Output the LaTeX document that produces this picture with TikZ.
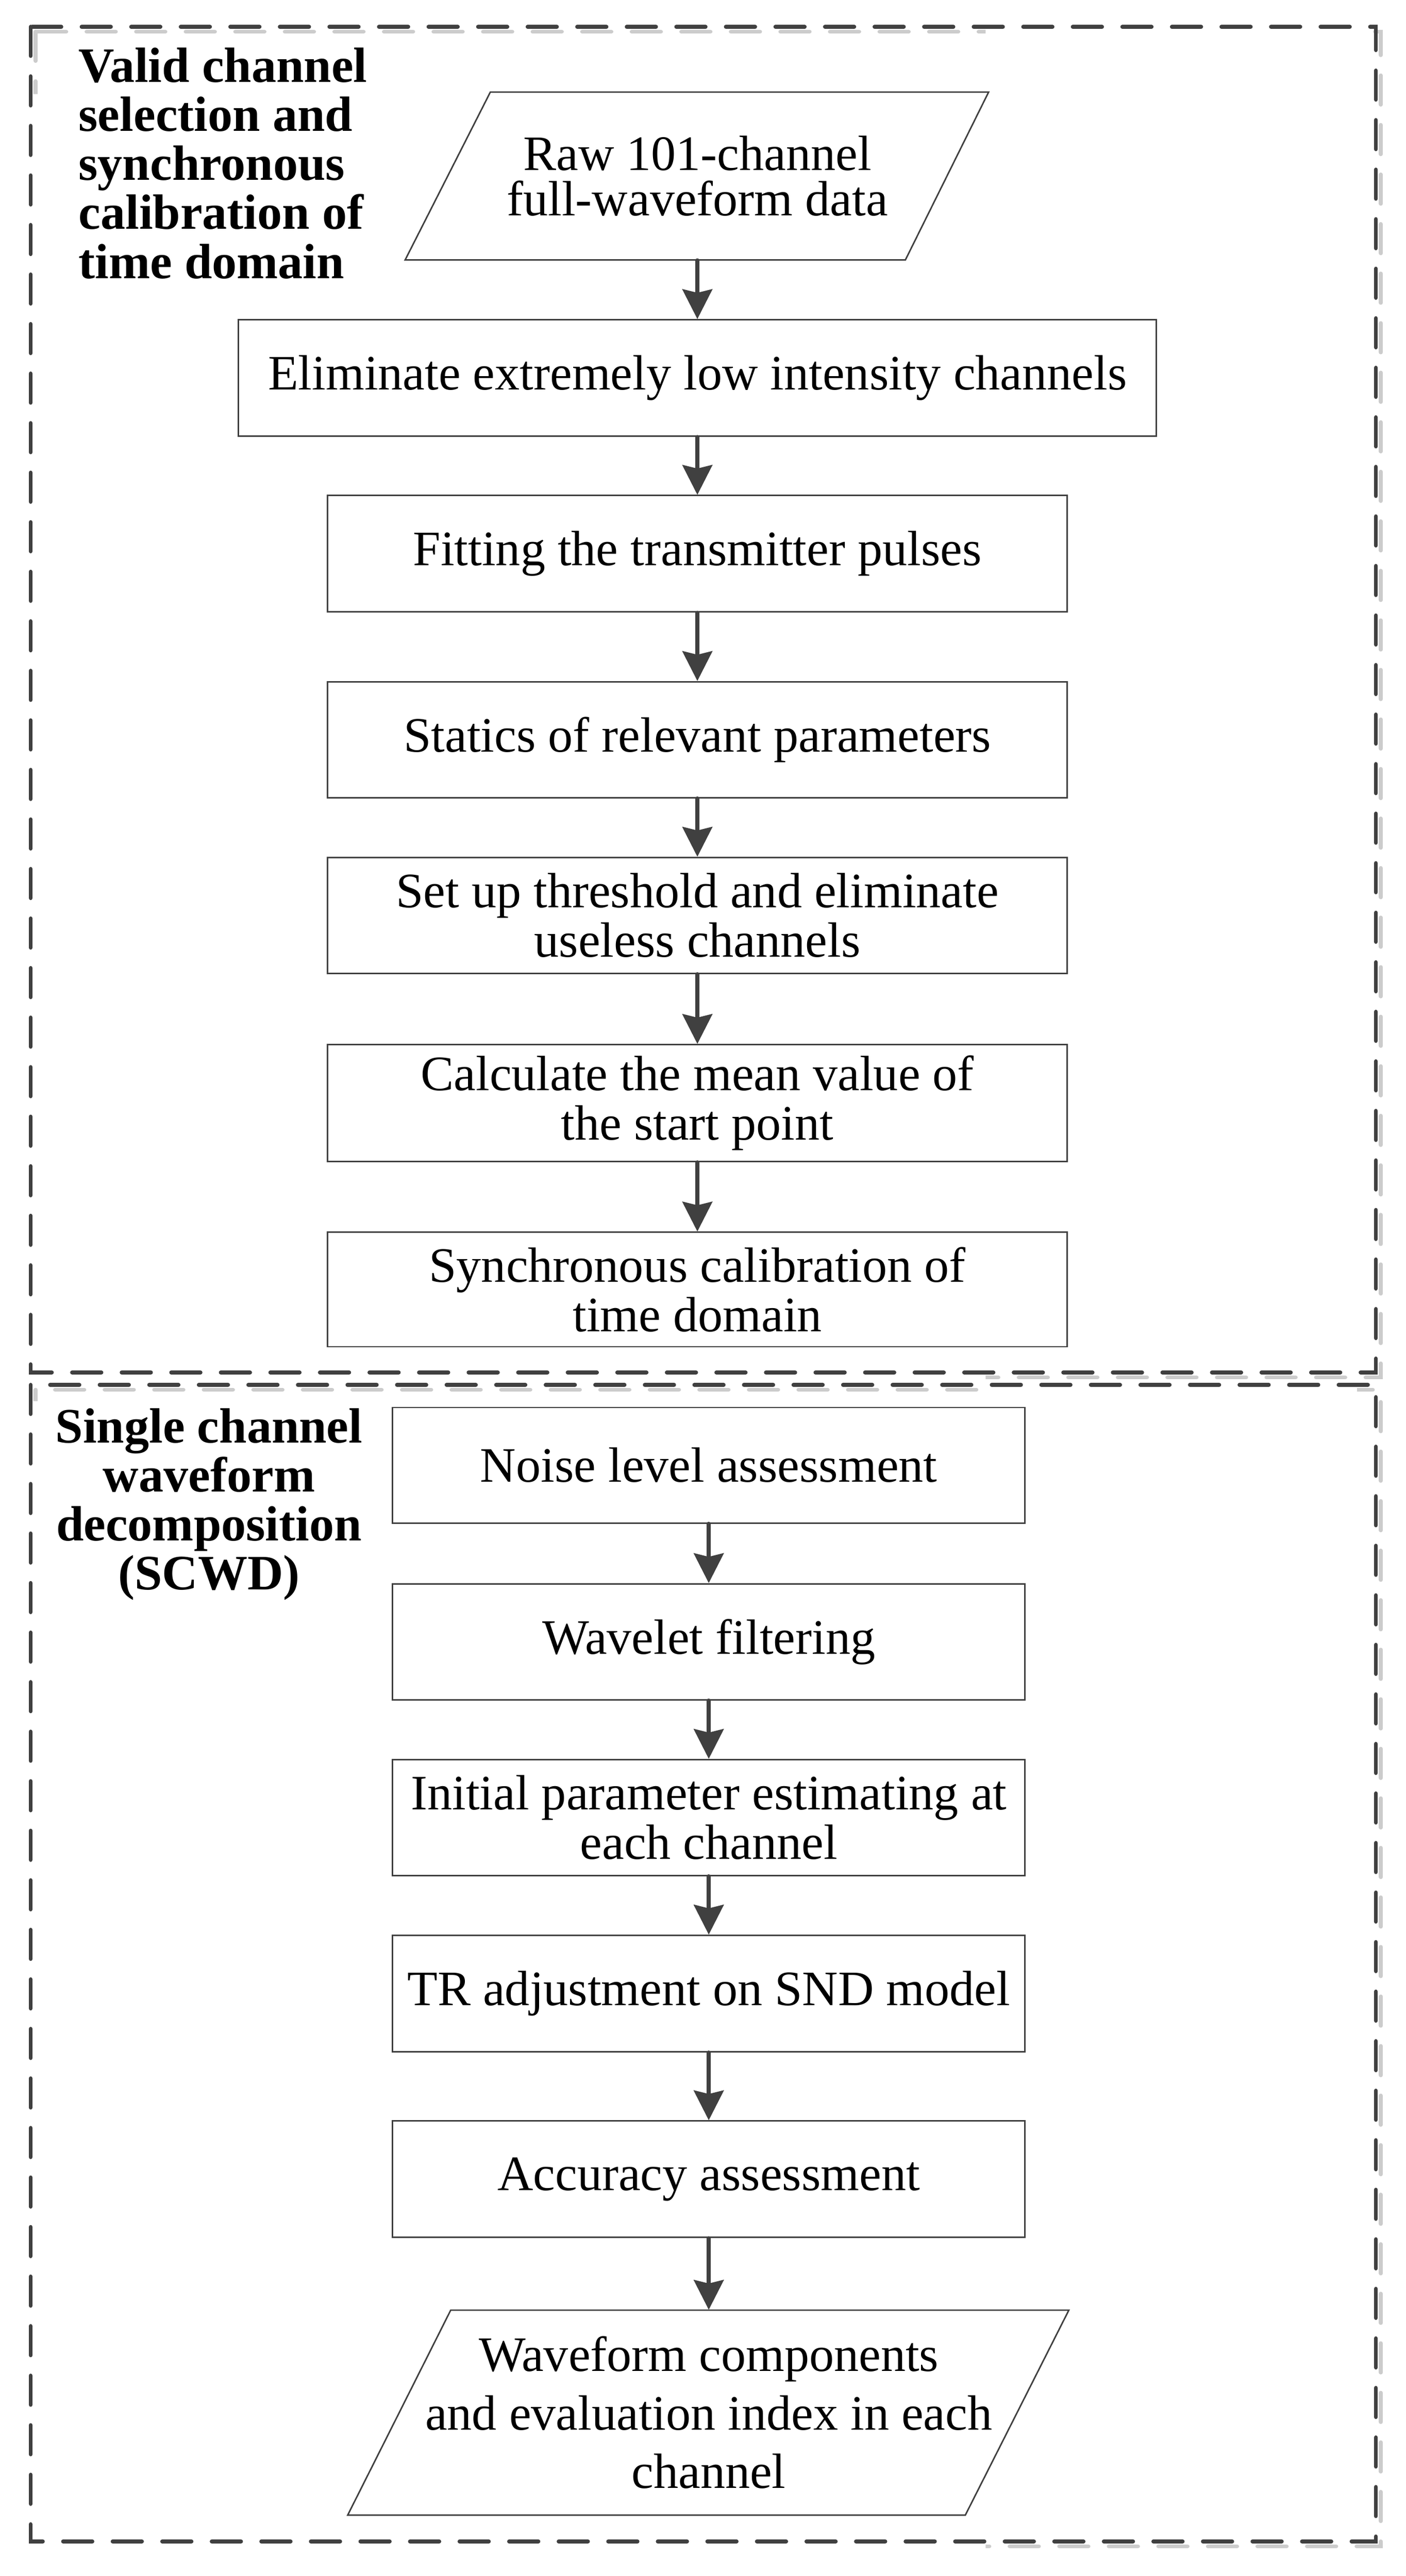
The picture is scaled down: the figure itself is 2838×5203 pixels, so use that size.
\documentclass[tikz,border=0pt]{standalone}
\usepackage{fontspec}
\setmainfont{Liberation Serif}
\usetikzlibrary{arrows.meta}
\definecolor{dg}{HTML}{404040}
\definecolor{sh}{HTML}{CCCCCC}
\newcommand\myfs{\fontsize{28.45pt}{28.45pt}\selectfont}
\begin{document}
\begin{tikzpicture}[x=0.01cm,y=-0.01cm,
  stepbox/.style={draw=dg, line width=0.03cm, inner sep=0pt, align=center, font=\myfs, text=black},
  upbox/.style={stepbox, minimum width=14.92cm, minimum height=2.35cm},
  lowbox/.style={stepbox, minimum width=12.76cm, minimum height=2.34cm},
  flow/.style={draw=dg, line width=0.08cm, line cap=round, -{Stealth[length=0.6cm, width=0.6cm, inset=0.07cm]}},
  frame/.style={draw=dg, line width=0.08cm, line cap=round, dash pattern=on 0.59cm off 0.41cm},
  shadowframe/.style={draw=sh, line width=0.08cm, line cap=round, dash pattern=on 0.59cm off 0.41cm},
  titletext/.style={inner sep=0pt, font=\bfseries\fontsize{28.45pt}{28.17pt}\selectfont, text=black},
  para/.style={draw=dg, line width=0.03cm, line join=miter}
]
\path[use as bounding box] (0,0) rectangle (2838,5203);

% shadows of the dashed frames
\begin{scope}
  \clip (0,0) rectangle (1990,120) (0,0) rectangle (150,190) (2740,0) rectangle (2838,2790) (1990,2740) rectangle (2838,2790);
  \draw[shadowframe] (72,64) rectangle (2788,2782);
\end{scope}
\begin{scope}
  \clip (0,2790) rectangle (1990,2830) (2740,2790) rectangle (2838,5203) (1990,5100) rectangle (2838,5203);
  \draw[shadowframe] (72,2807) rectangle (2788,5143);
\end{scope}

% dashed frames
\draw[frame] (62,54) rectangle (2778,2772);
\draw[frame] (62,2797) rectangle (2778,5133);

% titles (base anchor = baseline of the last line)
\node[titletext, align=left, anchor=base west] (t1) at (158,562)
  {Valid channel\\selection and\\synchronous\\calibration of\\time domain};
\node[titletext, align=center, anchor=base] (t2) at (422,3211)
  {Single channel\\waveform\\decomposition\\(SCWD)};

% upper flow
\draw[para] (990,186) -- (1996,186) -- (1828,525) -- (818,525) -- cycle;
\node[inner sep=0pt, minimum width=10.06cm, minimum height=3.39cm, align=center,
      font=\fontsize{28.45pt}{26pt}\selectfont] (p1) at (1408,355.5)
  {Raw 101-channel\\full-waveform data};
\node[stepbox, minimum width=18.52cm, minimum height=2.35cm] (b2) at (1408,763.5)
  {Eliminate extremely low intensity channels};
\node[upbox] (b3) at (1408,1118.5) {Fitting the transmitter pulses};
\node[upbox, minimum height=2.34cm] (b4) at (1408,1494) {Statics of relevant parameters};
\node[upbox, minimum height=2.34cm] (b5) at (1408,1849) {Set up threshold and eliminate\\useless channels};
\node[upbox, minimum height=2.36cm] (b6) at (1408,2228) {Calculate the mean value of\\the start point};
\node[upbox, minimum height=2.31cm] (b7) at (1408,2604.5) {Synchronous calibration of\\time domain};

\draw[flow] (p1.south) -- (b2.north);
\draw[flow] (b2.south) -- (b3.north);
\draw[flow] (b3.south) -- (b4.north);
\draw[flow] (b4.south) -- (b5.north);
\draw[flow] (b5.south) -- (b6.north);
\draw[flow] (b6.south) -- (b7.north);

% lower flow
\node[lowbox, minimum height=2.33cm] (b8) at (1431,2959.5) {Noise level assessment};
\node[lowbox] (b9) at (1431,3316) {Wavelet filtering};
\node[lowbox] (b10) at (1431,3671) {Initial parameter estimating at\\each channel};
\node[lowbox, minimum height=2.35cm] (b11) at (1431,4026.5) {TR adjustment on SND model};
\node[lowbox, minimum height=2.35cm] (b12) at (1431,4401.5) {Accuracy assessment};
\draw[para] (910,4666) -- (2158,4666) -- (1949,5080) -- (702,5080) -- cycle;
\node[inner sep=0pt, minimum width=12.48cm, minimum height=4.14cm, align=center,
      font=\fontsize{28.45pt}{33.6pt}\selectfont] (p2) at (1431,4873)
  {Waveform components\\and evaluation index in each\\channel};

\draw[flow] (b8.south) -- (b9.north);
\draw[flow] (b9.south) -- (b10.north);
\draw[flow] (b10.south) -- (b11.north);
\draw[flow] (b11.south) -- (b12.north);
\draw[flow] (b12.south) -- (p2.north);
\end{tikzpicture}
\end{document}
